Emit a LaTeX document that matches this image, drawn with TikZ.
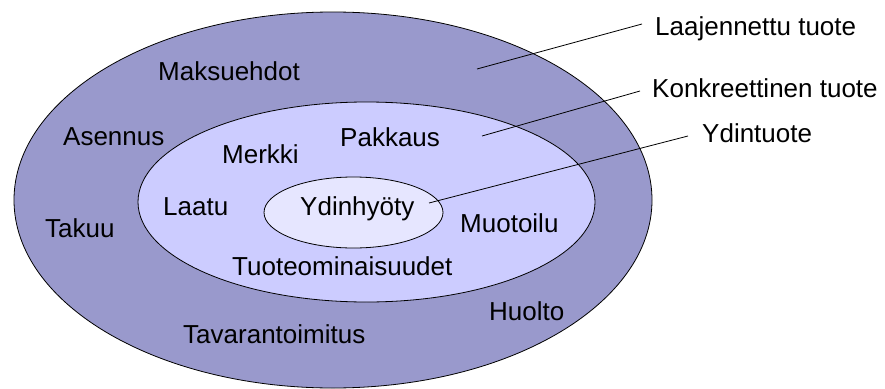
\documentclass[tikz,border=0pt]{standalone}
\usepackage{fontspec}
\setmainfont{Liberation Sans}
\definecolor{ringout}{RGB}{153,153,204}
\definecolor{ringmid}{RGB}{204,204,255}
\definecolor{ringin}{RGB}{230,230,255}
\tikzset{
  ring/.style={draw=black, line width=0.8pt},
  lbl/.style={anchor=base west, inner sep=0pt, font=\fontsize{26}{30}\selectfont},
  leader/.style={draw=black, line width=0.8pt}
}
\begin{document}
\begin{tikzpicture}[x=1pt,y=-1pt]
  \useasboundingbox (0,0) rectangle (885,388);
  % three nested product levels
  \draw[ring, fill=ringout] (333,200) ellipse [x radius=319pt, y radius=188pt];
  \draw[ring, fill=ringmid] (366.5,202) ellipse [x radius=228.5pt, y radius=100pt];
  \draw[ring, fill=ringin] (353.5,212.5) ellipse [x radius=89.5pt, y radius=35.5pt];

  % augmented product
  \node[lbl] (maksu) at (158,80) {Maksuehdot};
  \node[lbl] (asennus) at (63,145) {Asennus};
  \node[lbl] (takuu) at (45,237) {Takuu};
  \node[lbl] (huolto) at (489,320) {Huolto};
  \node[lbl] (tavara) at (183,343) {Tavarantoimitus};

  % actual product
  \node[lbl] (merkki) at (222,163) {Merkki};
  \node[lbl] (pakkaus) at (340,146) {Pakkaus};
  \node[lbl] (laatu) at (163,215) {Laatu};
  \node[lbl] (muotoilu) at (460,232) {Muotoilu};
  \node[lbl] (ominais) at (232,275) {Tuoteominaisuudet};

  % core product
  \node[lbl] (hyoty) at (300,215) {Ydinhyöty};

  % level captions
  \node[lbl] (laaj) at (655,35) {Laajennettu tuote};
  \node[lbl] (konk) at (652,97) {Konkreettinen tuote};
  \node[lbl] (ydin) at (702,142) {Ydintuote};

  % leader lines
  \coordinate (p1) at (477,69);
  \coordinate (q1) at (642,24);
  \coordinate (p2) at (482,136);
  \coordinate (q2) at (640,91);
  \coordinate (p3) at (429,203);
  \coordinate (q3) at (688,136);
  \draw[leader] (p1) -- (q1);
  \draw[leader] (p2) -- (q2);
  \draw[leader] (p3) -- (q3);
\end{tikzpicture}
\end{document}
